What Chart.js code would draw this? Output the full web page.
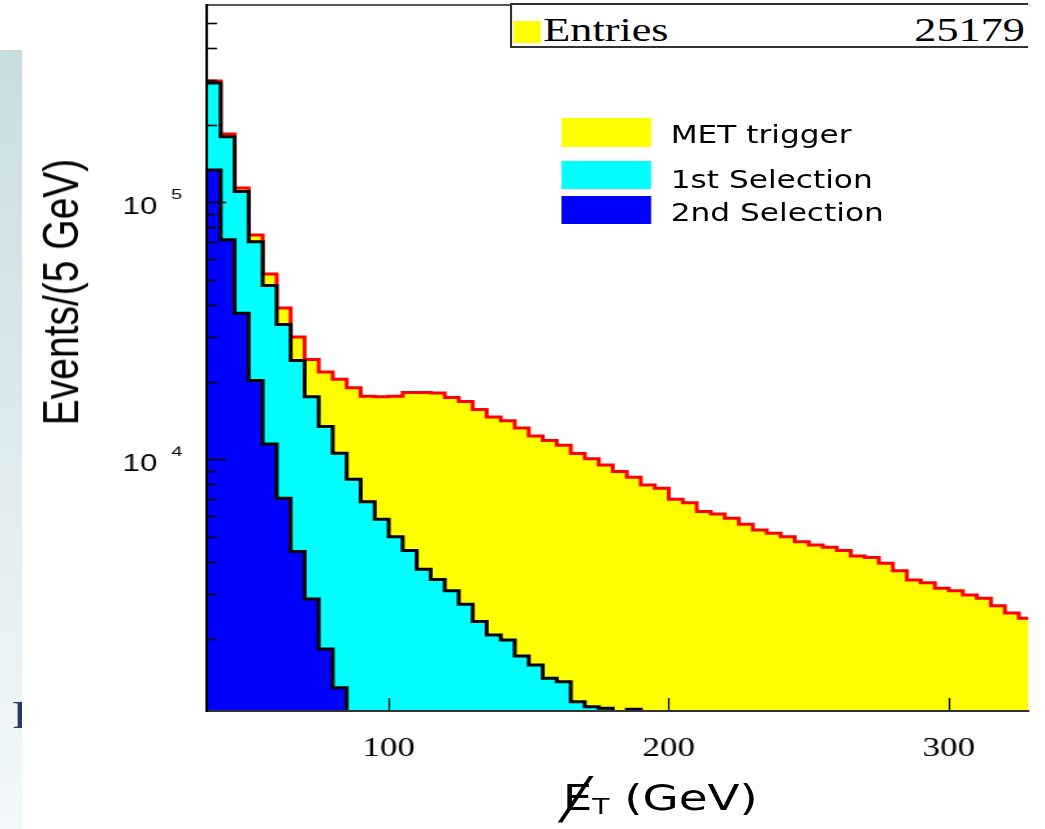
<!DOCTYPE html>
<html lang="en">
<head>
<meta charset="UTF-8">
<meta name="viewport" content="width=device-width, initial-scale=1.0">
<title>Missing ET: MET trigger and selections</title>
<script src="https://cdn.jsdelivr.net/npm/chart.js"></script>
<style>
  html, body { margin: 0; padding: 0; background: #fff; overflow: hidden; }
  /* the original picture is stretched sideways, so draw narrow and widen */
  #page { position: absolute; left: 0; top: 0; width: 804px; height: 829px;
          transform: scaleX(1.29975); transform-origin: 0 0; }
  #side { position: absolute; left: 0; top: 50px; width: 17px; height: 779px; overflow: hidden;
          background: linear-gradient(#c8dde0, #f3f8fa); }
  #side span { position: absolute; left: 9px; top: 645px; font: 40px/1 "Liberation Serif", serif; color: #1c3b6e; }
  #myChart { position: absolute; left: 0; top: 0; width: 804px; height: 829px; }
  #stats { position: absolute; left: 392px; top: 3px; width: 397px; height: 41px; background: #fff;
           border: 2px solid #333; border-right: none; }
  #stats .swatch { position: absolute; left: 1px; top: 16px; width: 21px; height: 22px; background: #ffff00; }
  #stats .name, #stats .value { position: absolute; top: 7.5px; font: 34px/34px "Liberation Serif", serif; color: #000; }
  #stats .name { left: 24px; }
  #stats .value { right: 2.5px; }
  .key { position: absolute; left: 432px; width: 69px; }
  .key-text { position: absolute; left: 516px; font: 24px/24px "DejaVu Sans", sans-serif; color: #000; white-space: nowrap; }
  #ytitle { position: absolute; left: 46.5px; top: 292px; transform: translate(-50%, -50%) rotate(-90deg);
            font: 39px/1 "Liberation Sans", sans-serif; color: #000; white-space: nowrap; }
  #xtitle { position: absolute; left: 508px; top: 780px; transform: translateX(-50%);
            font: 36px/1 "DejaVu Sans", sans-serif; color: #000; white-space: nowrap; }
  #xtitle .et { position: relative; }
  #xtitle .bar { position: absolute; left: -2px; top: 1.7px; font: 40px/1 "DejaVu Sans", sans-serif; }
  #xtitle sub { font-size: 0.6em; vertical-align: -4px; }
</style>
</head>
<body>
<div id="page">
  <div id="side"><span>F</span></div>
  <canvas id="myChart" width="804" height="829"></canvas>

  <div id="stats">
    <div class="swatch"></div>
    <div class="name">Entries</div>
    <div class="value" id="entries"></div>
  </div>

  <div class="key" style="top:118px; height:29px; background:#ffff00"></div>
  <div class="key" style="top:161px; height:28px; background:#00ffff"></div>
  <div class="key" style="top:196px; height:28px; background:#0000ff"></div>
  <div class="key-text" id="key0" style="top:123px"></div>
  <div class="key-text" id="key1" style="top:168px"></div>
  <div class="key-text" id="key2" style="top:201px"></div>

  <div id="ytitle">Events/(5 GeV)</div>
  <div id="xtitle"><span class="et">E<span class="bar">&#x2571;</span></span><sub>T</sub> (GeV)</div>
</div>

<script>
    // histogram binning (GeV)
    const binStart = 35
    const binWidth = 5
    const xMin = 35
    const xMax = 328.3
    const yMin = 1055
    const yMax = 589000

    const xTicks = [100, 200, 300]
    const yMajorTicks = [1e4, 1e5]
    const yMajorLabels = [['\u2074', '10   '], ['\u2075', '10   ']]
    const yMinorTicks = [2000, 3000, 4000, 5000, 6000, 7000, 8000, 9000,
                         20000, 30000, 40000, 50000, 60000, 70000, 80000, 90000,
                         200000, 300000, 400000, 500000]

    const seriesNames = ['MET trigger', '1st Selection', '2nd Selection']
    const entries = 25179

    // events per 5 GeV bin
    const metTrigger = [298000, 185600, 114400, 75100, 52900, 39000, 30100, 24600, 22000, 20600,
                        19100, 17700, 17600, 17700, 18300, 18300, 18200, 17500, 16900, 15700,
                        14700, 14200, 13300, 12400, 11900, 11400, 10600, 10100, 9560, 9010,
                        8560, 7990, 7760, 7030, 6820, 6300, 6160, 5930, 5620, 5340,
                        5190, 5030, 4810, 4670, 4570, 4440, 4230, 4170, 3960, 3710,
                        3410, 3330, 3170, 3100, 2980, 2900, 2710, 2540, 2420]
    const firstSelection = [293100, 181100, 110700, 70700, 47750, 33670, 24390, 17630, 13480, 10620,
                            8410, 6880, 5880, 5030, 4440, 3760, 3430, 3100, 2745, 2350,
                            2085, 1994, 1727, 1593, 1414, 1372, 1147, 1097, 1081, 0,
                            1072]
    const secondSelection = [134400, 71960, 37220, 20390, 11540, 7100, 4400, 2877, 1839, 1300]

    // empty bins sit far below the axis so the outline drops out of view
    const yFloor = 1

    const toSteps = (counts) => {
        const pts = counts.map((c, i) => ({ x: binStart + i * binWidth, y: c > 0 ? c : yFloor }))
        pts.push({ x: binStart + counts.length * binWidth, y: yFloor })
        return pts
    }

    const histo = (label, counts, fillColor, lineColor, order) => ({
        label: label,
        data: toSteps(counts),
        stepped: 'before',
        fill: 'start',
        backgroundColor: fillColor,
        borderColor: lineColor,
        borderWidth: 3,
        borderJoinStyle: 'miter',
        pointRadius: 0,
        order: order
    })

    document.getElementById('entries').textContent = entries
    seriesNames.forEach((name, i) => { document.getElementById('key' + i).textContent = name })

    // keep the tick label padding from pushing the plot frame down
    const noEdgePadding = (s) => { s.paddingTop = 0; s.paddingBottom = 0 }

    var ctx = document.getElementById('myChart')
    var myChart = new Chart(ctx, {
        type: 'line',
        data: {
            datasets: [
                histo(seriesNames[0], metTrigger, '#ffff00', '#ff0000', 3),
                histo(seriesNames[1], firstSelection, '#00ffff', '#000000', 2),
                histo(seriesNames[2], secondSelection, '#0000ff', '#000000', 1)
            ]
        },
        options: {
            responsive: false,
            animation: false,
            events: [],
            layout: { autoPadding: false, padding: { left: 0, right: 13, top: 0, bottom: 0 } },
            plugins: { legend: { display: false }, tooltip: { enabled: false } },
            scales: {
                x: {
                    type: 'linear', position: 'bottom', min: xMin, max: xMax,
                    afterFit: (s) => { s.height = 118; s.paddingLeft = 0; s.paddingRight = 0 },
                    afterBuildTicks: (s) => { s.ticks = xTicks.map(v => ({ value: v })) },
                    ticks: {
                        autoSkip: false, maxRotation: 0, padding: 35, color: '#000', z: 1,
                        font: { family: 'Liberation Serif', size: 27 },
                        callback: (v) => String(v)
                    },
                    grid: { drawOnChartArea: false, tickLength: -13, tickWidth: 1.2, tickColor: '#000', z: 1 },
                    border: { display: true, color: '#333', width: 2, z: 1 }
                },
                xTop: {
                    type: 'linear', position: 'top', min: xMin, max: xMax,
                    afterFit: (s) => { s.height = 5; s.paddingLeft = 0; s.paddingRight = 0 },
                    ticks: { display: false },
                    grid: { display: false },
                    border: { display: true, color: '#555', width: 2, z: 1 }
                },
                y: {
                    type: 'logarithmic', position: 'left', min: yMin, max: yMax, weight: 1,
                    afterFit: (s) => { s.width = 159; noEdgePadding(s) },
                    afterBuildTicks: (s) => { s.ticks = yMajorTicks.map(v => ({ value: v })) },
                    ticks: {
                        padding: 33, color: '#000', z: 1,
                        font: { family: 'Liberation Sans', size: 24, lineHeight: 0.38 },
                        callback: (v, i) => yMajorLabels[i]
                    },
                    grid: { drawOnChartArea: false, tickLength: -15, tickWidth: 1.6, tickColor: '#000', z: 1 },
                    border: { display: true, color: '#000', width: 2, z: 1 }
                },
                yMinor: {
                    type: 'logarithmic', position: 'left', min: yMin, max: yMax, weight: 0,
                    afterFit: (s) => { s.width = 0; noEdgePadding(s) },
                    afterBuildTicks: (s) => { s.ticks = yMinorTicks.map(v => ({ value: v })) },
                    ticks: { display: false },
                    grid: { drawOnChartArea: false, tickLength: -8, tickWidth: 1.6, tickColor: '#000', z: 1 },
                    border: { display: false }
                }
            }
        }
    })
</script>
</body>
</html>
